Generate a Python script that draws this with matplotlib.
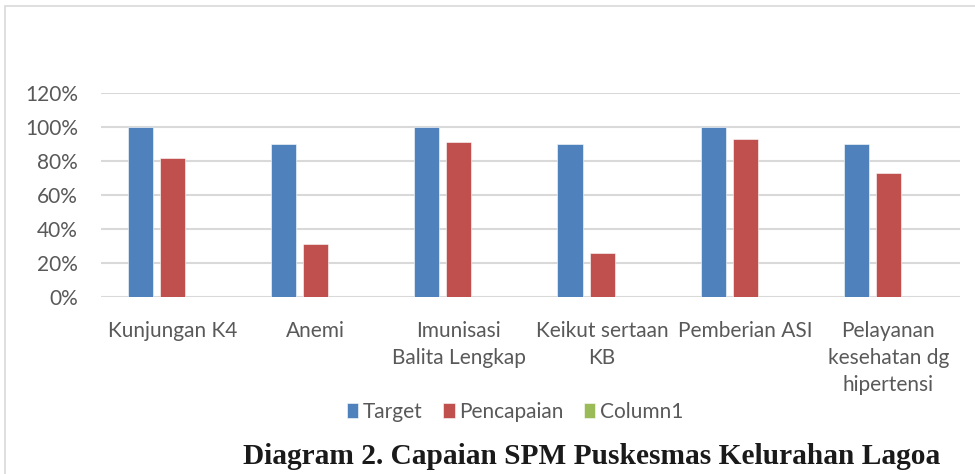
import matplotlib
matplotlib.use("Agg")
import matplotlib.pyplot as plt
from matplotlib.patches import Rectangle
import numpy as np

categories = ["Kunjungan K4", "Anemi", "Imunisasi\nBalita Lengkap", "Keikut sertaan\nKB",
              "Pemberian ASI", "Pelayanan\nkesehatan dg\nhipertensi"]
target = [1.00, 0.90, 1.00, 0.90, 1.00, 0.90]
pencapaian = [0.82, 0.31, 0.91, 0.26, 0.93, 0.73]
column1 = [0, 0, 0, 0, 0, 0]
series_names = ["Target", "Pencapaian", "Column1"]
colors = ["#4F81BD", "#C0504D", "#9BBB59"]
yticks = [0, 0.2, 0.4, 0.6, 0.8, 1.0, 1.2]
yticklabels = ["0%", "20%", "40%", "60%", "80%", "100%", "120%"]
title = "Diagram 2. Capaian SPM Puskesmas Kelurahan Lagoa"

W, H = 975, 474
fig = plt.figure(figsize=(W / 100, H / 100), dpi=100)
fig.patch.set_facecolor("white")

# chart border
fig.add_artist(Rectangle((4.5 / W, -0.1), 1.2, 1 - 6.5 / H + 0.1, transform=fig.transFigure,
                         fill=False, edgecolor="#D9D9D9", linewidth=1.2))

ax = fig.add_axes([101 / W, 1 - 297 / H, (960 - 101) / W, (297 - 93) / H])
x = np.arange(len(categories))
bw = 0.175
off = 0.224
for k, (vals, name, c) in enumerate(zip([target, pencapaian, column1], series_names, colors)):
    ax.bar(x + (k - 1) * off, vals, width=bw, color=c, label=name, zorder=3,
           edgecolor="white", linewidth=0.4)

ax.set_xlim(-0.5, len(categories) - 0.5)
ax.set_ylim(0, 1.2)
ax.set_yticks(yticks)
ax.set_yticklabels(yticklabels)
ax.grid(axis="y", color="#D9D9D9", linewidth=1.5, zorder=0)
for s in ax.spines.values():
    s.set_visible(False)
ax.tick_params(axis="both", length=0, colors="#595959", labelsize=15)
ax.tick_params(axis="y", pad=16.5)
ax.set_xticks(x)
ax.set_xticklabels(categories, linespacing=1.46, va="top")
ax.tick_params(axis="x", pad=17)
for lab in ax.get_xticklabels() + ax.get_yticklabels():
    lab.set_fontfamily("Lato")

leg = fig.legend(loc="center", bbox_to_anchor=(515 / W, 1 - 412 / H), ncol=3, frameon=False,
                 prop={"family": "Lato", "size": 15}, handlelength=0.55, handleheight=0.75,
                 handletextpad=0.2, columnspacing=1.0)
for t in leg.get_texts():
    t.set_color("#595959")

fig.text(592 / W, 1 - 457 / H, title, ha="center", va="center", fontsize=21.2,
         fontweight="bold", family="Liberation Serif", color="#1a1a1a")

fig.savefig("out.png", dpi=100)
